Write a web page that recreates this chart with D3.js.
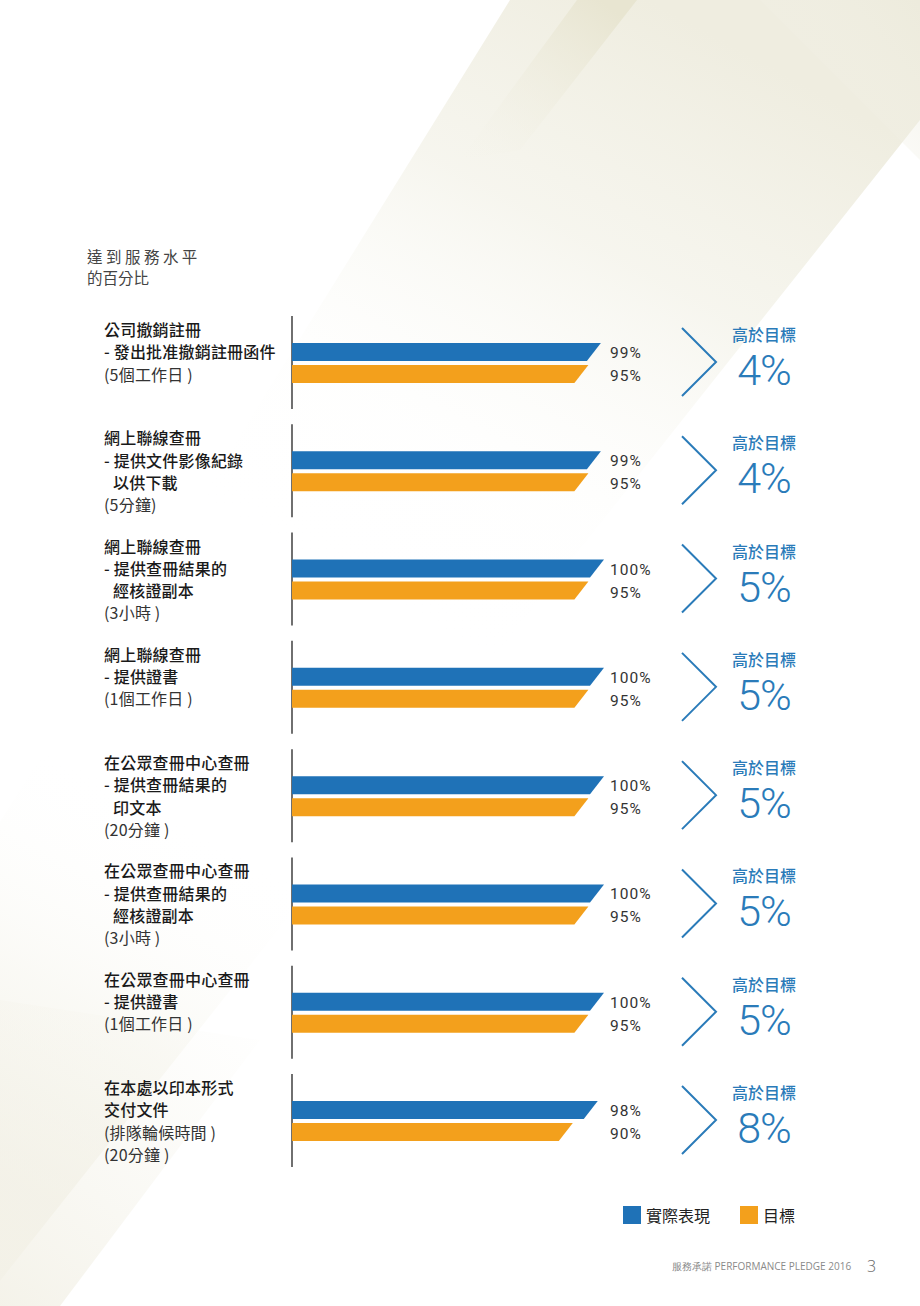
<!DOCTYPE html>
<html><head><meta charset="utf-8">
<script src="https://cdn.jsdelivr.net/npm/d3@7"></script>
<style>
html,body{margin:0;padding:0;background:#fff;}
svg{display:block;}
</style></head>
<body>
<script>
// ---------- data ----------
const headerLines = ["達 到 服 務 水 平", "的百分比"];
const categoryBold = [
  ["公司撤銷註冊", "- 發出批准撤銷註冊函件"],
  ["網上聯線查冊", "- 提供文件影像紀錄", "  以供下載"],
  ["網上聯線查冊", "- 提供查冊結果的", "  經核證副本"],
  ["網上聯線查冊", "- 提供證書"],
  ["在公眾查冊中心查冊", "- 提供查冊結果的", "  印文本"],
  ["在公眾查冊中心查冊", "- 提供查冊結果的", "  經核證副本"],
  ["在公眾查冊中心查冊", "- 提供證書"],
  ["在本處以印本形式", "交付文件"]
];
const categoryNote = [
  ["(5個工作日 )"],
  ["(5分鐘)"],
  ["(3小時 )"],
  ["(1個工作日 )"],
  ["(20分鐘 )"],
  ["(3小時 )"],
  ["(1個工作日 )"],
  ["(排隊輪候時間 )", "(20分鐘 )"]
];
const actualValues = [99, 99, 100, 100, 100, 100, 100, 98];
const targetValues = [95, 95, 95, 95, 95, 95, 95, 90];
const seriesNames = ["實際表現", "目標"];
const aboveLabel = "高於目標";
const footerText = "服務承諾 PERFORMANCE PLEDGE 2016";
const pageNumber = "3";

// ---------- setup ----------
const W = 920, H = 1306;
const BLUE = "#1f72b7", ORANGE = "#f3a01c", ACCENT = "#2a7bb9";
const CJK = "'Noto Sans CJK TC','Noto Sans',sans-serif";
const svg = d3.select("body").append("svg").attr("width", W).attr("height", H);
const defs = svg.append("defs");

// background decoration (soft cream diagonal bands)
function grad(id, x1, y1, x2, y2, stops){
  const g = defs.append("linearGradient").attr("id", id)
    .attr("gradientUnits","userSpaceOnUse")
    .attr("x1",x1).attr("y1",y1).attr("x2",x2).attr("y2",y2);
  stops.forEach(s => g.append("stop").attr("offset", s[0]).attr("stop-color", s[1]).attr("stop-opacity", s[2]));
}
grad("bandGrad", 760, 60, 120, 1240, [
  [0, "#efede0", 1], [0.18, "#f4f3ea", 0.8], [0.36, "#fbfbf7", 0.15],
  [0.5, "#ffffff", 0], [0.7, "#ffffff", 0], [0.86, "#f6f5ed", 0.55], [1, "#f1efe4", 0.9]
]);
grad("stripGrad", 600, 0, 470, 170, [[0, "#e8e5d1", 1], [1, "#f4f3ea", 0]]);
grad("cornerGrad", 920, 0, 760, 130, [[0, "#eceadb", 0.7], [1, "#f6f5ee", 0]]);
grad("leftGrad", 0, 1306, 260, 1000, [[0, "#f3f1e7", 0.9], [1, "#f7f6ef", 0]]);
const bg = svg.append("g");
bg.append("polygon").attr("points","510,0 920,0 920,120 -20,1306 0,1306 0,822")
  .attr("fill","url(#bandGrad)");
bg.append("polygon").attr("points","577,0 637,0 520,150 460,160")
  .attr("fill","url(#stripGrad)");
bg.append("polygon").attr("points","760,0 920,0 920,160")
  .attr("fill","url(#cornerGrad)");
bg.append("polygon").attr("points","0,1000 260,1040 60,1306 0,1306")
  .attr("fill","url(#leftGrad)");

// header
svg.append("g").selectAll("text").data(headerLines).join("text")
  .attr("x", 87).attr("y", (d,i) => 263 + i*21)
  .attr("font-family", CJK).attr("font-size", 15.5).attr("font-weight", 400)
  .attr("fill", "#444").text(d => d);

// scales
const x = d3.scaleLinear().domain([0, 100]).range([292, 604]);
const groupTop = d3.scaleLinear().domain([0, 7]).range([316, 1074]);
const slant = 14, barH = 18;

const groups = svg.append("g").selectAll("g").data(actualValues.map((v,i)=>({
  i, actual: v, target: targetValues[i], bold: categoryBold[i], note: categoryNote[i]
}))).join("g").attr("transform", d => `translate(0,${groupTop(d.i)})`);

// axis line
groups.append("line").attr("x1", x(0)).attr("x2", x(0)).attr("y1", 0).attr("y2", 93)
  .attr("stroke", "#222").attr("stroke-width", 1.3);

// bars
function barPath(v, top){
  const x0 = x(0), x1 = x(v);
  return `M${x0},${top}L${x1},${top}L${x1-slant},${top+barH}L${x0},${top+barH}Z`;
}
groups.append("path").attr("d", d => barPath(d.actual, 27)).attr("fill", BLUE);
groups.append("path").attr("d", d => barPath(d.target, 49)).attr("fill", ORANGE);

// value labels
const valFont = "Roboto, 'Open Sans', sans-serif";
groups.append("text").attr("x", 610).attr("y", 42).text(d => d.actual + "%")
  .attr("font-family", valFont).attr("font-size", 15.5).attr("letter-spacing", 1)
  .attr("fill", "#333");
groups.append("text").attr("x", 610).attr("y", 65).text(d => d.target + "%")
  .attr("font-family", valFont).attr("font-size", 15.5).attr("letter-spacing", 1)
  .attr("fill", "#333");

// category labels
groups.each(function(d){
  const g = d3.select(this);
  const lines = d.bold.map(t => ({t, b:true})).concat(d.note.map(t => ({t, b:false})));
  g.selectAll("text.cat").data(lines).join("text").attr("class","cat")
    .attr("x", l => l.t.startsWith("  ") ? 113 : 104)
    .attr("y", (l,j) => 20 + j*22.3)
    .attr("font-family", CJK).attr("font-size", 16)
    .attr("letter-spacing", 0.2)
    .attr("font-weight", l => l.b ? 500 : 400)
    .attr("fill", l => l.b ? "#1a1a1a" : "#333")
    .text(l => l.t.trim());
});

// chevron + difference
groups.append("polyline").attr("points", "682,12 716,46 682,80")
  .attr("fill", "none").attr("stroke", ACCENT).attr("stroke-width", 2);
groups.append("text").attr("x", 764).attr("y", 25).attr("text-anchor", "middle")
  .attr("font-family", CJK).attr("font-size", 16).attr("font-weight", 500)
  .attr("fill", ACCENT).text(aboveLabel);
groups.append("text").attr("x", 764).attr("y", 69).attr("text-anchor", "middle")
  .attr("font-family", valFont).attr("font-size", 43).attr("font-weight", 300)
  .attr("letter-spacing", -1)
  .attr("fill", ACCENT).text(d => (d.actual - d.target) + "%");

// legend
const legend = svg.append("g").attr("transform", "translate(623,1206)");
const legItems = legend.selectAll("g").data(seriesNames).join("g")
  .attr("transform", (d,i) => `translate(${i*117},0)`);
legItems.append("rect").attr("width", 18).attr("height", 18)
  .attr("fill", (d,i) => i === 0 ? BLUE : ORANGE);
legItems.append("text").attr("x", 23).attr("y", 15.5)
  .attr("font-family", CJK).attr("font-size", 16).attr("fill", "#222").text(d => d);

// footer
svg.append("text").attr("x", 672).attr("y", 1270).attr("font-family", "'Open Sans', sans-serif")
  .attr("font-size", 10).attr("fill", "#8a8a8a").text(footerText);
svg.append("text").attr("x", 867).attr("y", 1272).attr("font-family", "'Open Sans', sans-serif")
  .attr("font-size", 16).attr("font-weight", 300).attr("fill", "#666").text(pageNumber);
</script>
</body></html>
